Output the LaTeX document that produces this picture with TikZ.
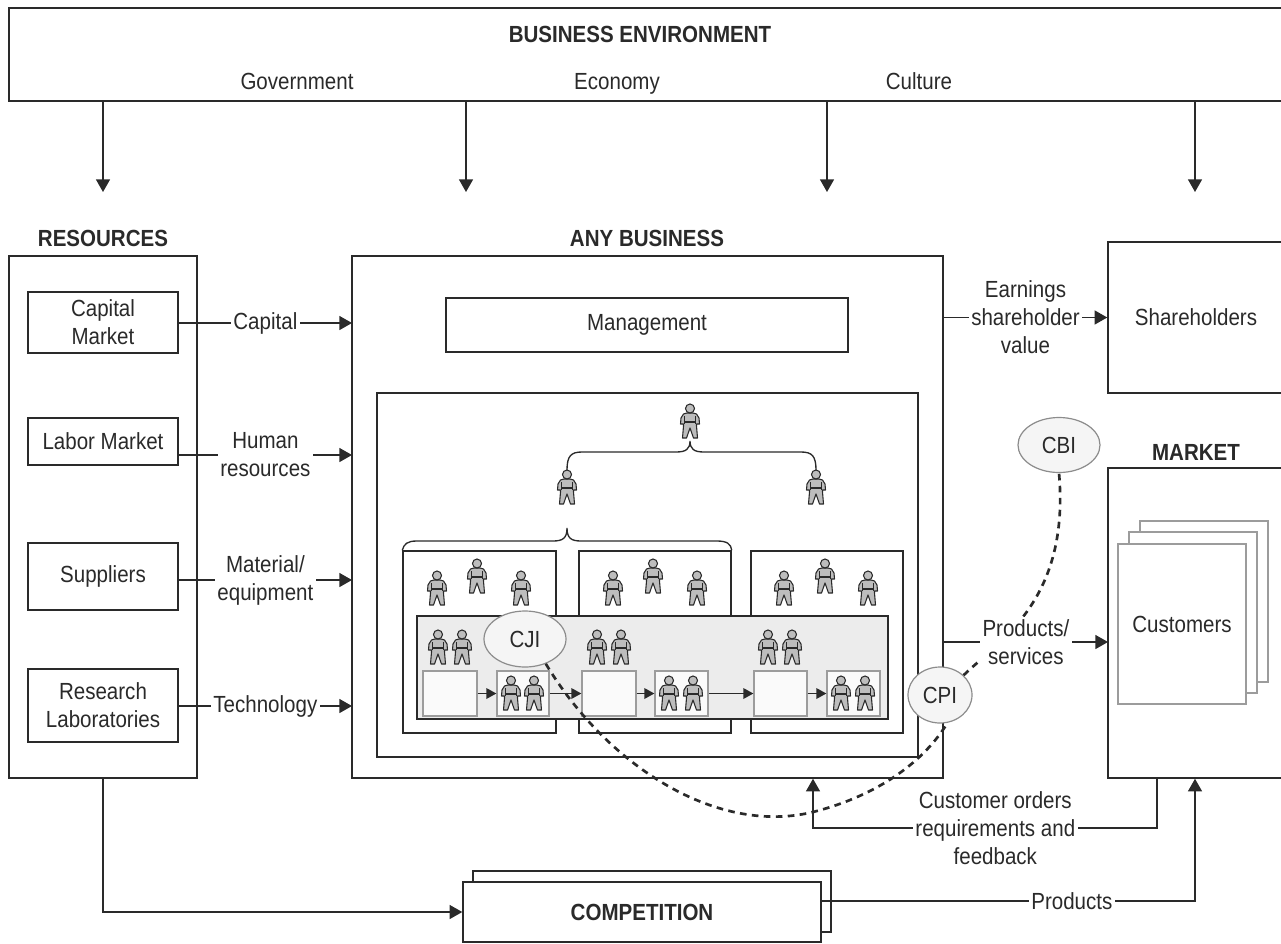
\documentclass[tikz,border=0pt]{standalone}
\usepackage{fontspec}
\setmainfont{Liberation Sans}[FakeStretch=0.88]
\usetikzlibrary{arrows.meta,shapes.geometric,fit,positioning}

\definecolor{ink}{HTML}{2A2A2A}
\definecolor{greyline}{HTML}{9C9C9C}
\definecolor{bandfill}{HTML}{ECECEC}
\definecolor{persfill}{HTML}{BDBDBD}
\definecolor{bubblefill}{HTML}{F5F5F5}
\definecolor{bubbleline}{HTML}{8C8C8C}

\tikzset{every picture/.style={line width=0.75pt}}
\tikzset{
  box/.style={draw=ink, fill=white, line width=1.1pt, inner sep=0pt},
  txt/.style={label={[align=center]center:#1}},
  ttl/.style={font=\bfseries\fontsize{17.5}{21}\selectfont},
  lbl/.style={fill=white, inner sep=2pt, align=center},
  arr/.style={draw=ink, line width=1.1pt, -{Triangle[length=9.5pt,width=10.5pt]}},
  sarr/.style={draw=ink, line width=1pt, -{Triangle[length=7.5pt,width=8pt]}},
  sbox/.style={draw=greyline, fill=white!98!black, line width=1pt, inner sep=0pt},
  stack/.style={draw=greyline, fill=white, line width=1.4pt, inner sep=0pt},
  bubble/.style={ellipse, draw=bubbleline, fill=bubblefill, line width=0.9pt, inner sep=0pt},
  brace/.style={draw=ink, line width=1pt},
  link/.style={draw=ink, line width=2pt, dash pattern=on 5pt off 4pt},
  pics/person/.style={code={
    \path[draw=ink, fill=persfill, line width=0.8pt, line join=round]
      (-3,8) -- (-6.5,7) -- (-9,3) -- (-9.5,-3) -- (-6.5,-3) -- (-6.5,-5) -- (-7.5,-17)
      -- (-3.5,-17) -- (0,-7) -- (3.5,-17) -- (7.5,-17) -- (6.5,-5) -- (6.5,-3) -- (9.5,-3)
      -- (9,3) -- (6.5,7) -- (3,8) -- cycle;
    \draw[ink, line width=0.8pt] (-5.5,5) -- (-5.5,-3) (5.5,5) -- (5.5,-3) (-5.5,-1) -- (5.5,-1);
    \draw[draw=ink, fill=persfill, line width=0.8pt] (0,12.5) circle[radius=4.5];
    \coordinate (-top) at (0,17);
  }}
}

\begin{document}
\begin{tikzpicture}[x=0.75pt,y=0.75pt,yscale=-1,xscale=1, font=\fontsize{17.5}{21}\selectfont, text=ink]
\useasboundingbox (0,0) rectangle (1281,943);

% business environment
\node[box, fit={(9,8) (1284,101)}] (env) {};
\node[ttl] (envt) at (640,34) {BUSINESS ENVIRONMENT};
\node[anchor=base] (gov) at (297,89) {Government};
\node[anchor=base] (eco) at (617,89) {Economy};
\node[anchor=base] (cul) at (919,89) {Culture};
\coordinate (d1) at (103,192);
\coordinate (d2) at (466,192);
\coordinate (d3) at (827,192);
\coordinate (d4) at (1195,192);
\foreach \c in {d1,d2,d3,d4}
  \draw[arr] (env.south -| \c) -- (\c);

% resources
\node[ttl] (rest) at (103,238) {RESOURCES};
\node[box, fit={(9,256) (197,778)}] (res) {};
\node[box, fit={(28,292) (178,353)}, txt={Capital\\Market}] (cap) {};
\node[box, fit={(28,418) (178,465)}, txt={Labor Market}] (lab) {};
\node[box, fit={(28,543) (178,610)}, txt={Suppliers}] (sup) {};
\node[box, fit={(28,669) (178,742)}, txt={Research\\Laboratories}] (rl) {};

% any business
\node[ttl] (bizt) at (647,238) {ANY BUSINESS};
\node[box, fit={(352,256) (943,778)}] (biz) {};
\node[box, fit={(446,298) (848,352)}, txt={Management}] (mgmt) {};
\node[box, fit={(377,393) (918,757)}] (org) {};

\coordinate (inC) at (352,323);
\coordinate (inH) at (352,455);
\coordinate (inM) at (352,580);
\coordinate (inT) at (352,706);
\draw[arr] (cap.east |- inC) -- node[lbl] {Capital} (inC);
\draw[arr] (lab.east |- inH) -- node[lbl] {Human\\resources} (inH);
\draw[arr] (sup.east |- inM) -- node[lbl] {Material/\\equipment} (inM);
\draw[arr] (rl.east |- inT) -- node[lbl] {Technology} (inT);

% hierarchy
\pic (boss) at (690,421) {person};
\pic (pl) at (567,487) {person};
\pic (pr) at (816,487) {person};
\draw[brace] (pl-top) .. controls (567,456) and (571,452) .. (582,452) -- (676,452)
  .. controls (686,452) and (690,449) .. (690,441) .. controls (690,449) and (694,452) .. (704,452)
  -- (801,452) .. controls (812,452) and (816,456) .. (pr-top);

% units
\node[box, fit={(403,551) (556,733)}] (u1) {};
\node[box, fit={(579,551) (731,733)}] (u2) {};
\node[box, fit={(751,551) (903,733)}] (u3) {};
\draw[brace] (u1.north west) .. controls (404,544) and (407,541) .. (417,541) -- (553,541)
  .. controls (563,541) and (567,538) .. (567,528) .. controls (567,538) and (571,541) .. (581,541)
  -- (717,541) .. controls (727,541) and (731,544) .. (u2.north east);
\node[box, fill=bandfill, fit={(417,616) (888,719)}] (band) {};

\node[sbox, fit={(423,671) (477,716)}] (w1) {};
\node[sbox, fit={(497,671) (549,716)}] (q1) {};
\node[sbox, fit={(582,671) (636,716)}] (w2) {};
\node[sbox, fit={(655,671) (708,716)}] (q2) {};
\node[sbox, fit={(754,671) (807,716)}] (w3) {};
\node[sbox, fit={(827,671) (880,716)}] (q3) {};
\draw[sarr] (w1) -- (q1);
\draw[sarr] (q1) -- (w2);
\draw[sarr] (w2) -- (q2);
\draw[sarr] (q2) -- (w3);
\draw[sarr] (w3) -- (q3);

\foreach \px/\py in {437/588, 477/576, 521/588, 613/588, 653/576, 697/588, 784/588, 825/576, 868/588,
    438/647, 462/647, 597/647, 621/647, 768/647, 792/647,
    511/693, 534/693, 669/693, 693/693, 841/693, 865/693}
  \pic at (\px,\py) {person};

% improvement bubbles
\node[bubble, minimum width=61.5pt, minimum height=42pt] (cji) at (525,639) {CJI};
\node[bubble, minimum width=48pt, minimum height=42pt] (cpi) at (940,695) {CPI};
\node[bubble, minimum width=61.5pt, minimum height=41.25pt] (cbi) at (1059,445) {CBI};
\draw[link] (cji.-50) .. controls (610,770) and (720,835) .. (813,812)
  .. controls (880,795) and (925,760) .. (cpi.-75);
\draw[link] (cpi.40) .. controls (1000,640) and (1070,600) .. (cbi.south);

% shareholders and market
\node[box, fit={(1108,242) (1284,393)}, txt={Shareholders}] (sh) {};
\node[ttl] (mktt) at (1196,452) {MARKET};
\node[box, fit={(1108,468) (1284,778)}] (mkt) {};
\node[stack, fit={(1140,521) (1268,682)}] (c3) {};
\node[stack, fit={(1129,532) (1257,693)}] (c2) {};
\node[stack, fit={(1118,544) (1246,704)}, txt={Customers}] (cust) {};

\draw[arr] (biz.east |- sh.west) -- node[lbl] {Earnings\\shareholder\\value} (sh.west);
\coordinate (ps) at (1108,642);
\draw[arr] (biz.east |- ps) -- node[lbl] {Products/\\services} (ps);

\coordinate (fbR) at (1157,828);
\coordinate (fbL) at (813,828);
\draw[arr] (mkt.south -| fbR) -- (fbR) -- node[lbl, pos=0.47] {Customer orders\\requirements and\\feedback} (fbL) -- (biz.south -| fbL);

% competition
\node[box, fit={(473,871) (831,932)}] (compb) {};
\node[box, fit={(463,882) (821,942)}, label={[ttl]center:COMPETITION}] (comp) {};
\draw[arr] (res.south) |- (comp.west);
\coordinate (pr2) at (1195,901);
\draw[arr] (comp.east |- pr2) -- node[lbl, pos=0.67] {Products} (pr2) -- (mkt.south -| pr2);
\end{tikzpicture}
\end{document}
